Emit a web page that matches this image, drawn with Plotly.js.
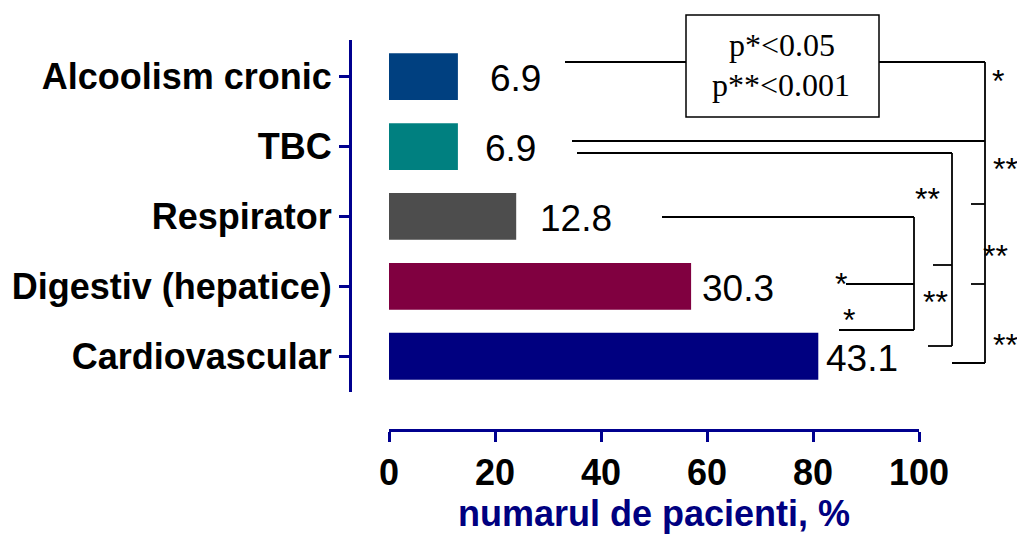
<!DOCTYPE html>
<html>
<head>
<meta charset="utf-8">
<script src="https://cdn.plot.ly/plotly-3.0.1.min.js"></script>
<style>
  html, body { margin: 0; padding: 0; background: #fff; }
  #chart { width: 1017px; height: 538px; }
</style>
</head>
<body>
<div id="chart"></div>
<script>
// Patient groups and number of patients in each group
const categories = ['Alcoolism cronic', 'TBC', 'Respirator', 'Digestiv (hepatice)', 'Cardiovascular'];
const patients = [13, 13, 24, 57, 81];
const barColors = ['#004080', '#008080', '#4d4d4d', '#800040', '#000080'];
const xTickVals = [0, 20, 40, 60, 80, 100];

// Share of all patients, shown next to each bar
const total = patients.reduce((a, b) => a + b, 0);
const shares = patients.map(n => (n / total * 100).toFixed(1));

// ---- page geometry ----
const PAGE_W = 1017, PAGE_H = 538;
const M = { l: 350, r: 17, t: 40, b: 108 };
const plotW = PAGE_W - M.l - M.r;
const plotH = PAGE_H - M.t - M.b;
const px = x => (x - M.l) / plotW;          // page pixel -> paper x
const py = y => 1 - (y - M.t) / plotH;      // page pixel -> paper y

const AXIS_BLUE = '#00008f';
const SANS = 'Liberation Sans, Arial, sans-serif';
const SERIF = 'Liberation Serif, Times New Roman, serif';

// Significance brackets (polylines, page pixels)
const bracketPaths = [
  [[565, 62], [985, 62], [985, 363], [952, 363]],
  [[572, 141], [985, 141]],
  [[971, 204], [985, 204]],
  [[971, 284], [985, 284]],
  [[577, 153], [952, 153], [952, 346], [928, 346]],
  [[933, 265], [952, 265]],
  [[662, 217], [914, 217], [914, 330], [839, 330]],
  [[846, 284], [914, 284]]
];
const starMarks = [
  [998, 74, '*'], [1005, 162, '**'], [995, 249, '**'], [1005, 338, '**'],
  [927, 192, '**'], [935, 295, '**'], [841, 277, '*'], [849, 313, '*']
];

const shapes = [];
bracketPaths.forEach(path => {
  for (let i = 0; i < path.length - 1; i++) {
    shapes.push({
      type: 'line', xref: 'paper', yref: 'paper', layer: 'above',
      x0: px(path[i][0]), y0: py(path[i][1]),
      x1: px(path[i + 1][0]), y1: py(path[i + 1][1]),
      line: { color: '#000', width: 1.8 }
    });
  }
});
// box with the p-value thresholds
shapes.push({
  type: 'rect', xref: 'paper', yref: 'paper', layer: 'above',
  x0: px(686), x1: px(879), y0: py(117), y1: py(15),
  fillcolor: '#fff', line: { color: '#000', width: 1.5 }
});

const annotations = [];
// value labels next to the bars
const labelGap = [30, 25, 22, 9, 6];
categories.forEach((c, i) => {
  annotations.push({
    x: patients[i], y: c, xref: 'x', yref: 'y',
    text: shares[i], showarrow: false,
    xanchor: 'left', yanchor: 'middle', xshift: labelGap[i], yshift: -2,
    font: { family: SANS, size: 37, color: '#000' }
  });
});
starMarks.forEach(s => {
  annotations.push({
    x: px(s[0]), y: py(s[1]), xref: 'paper', yref: 'paper',
    text: s[2], showarrow: false, xanchor: 'center', yanchor: 'middle',
    yshift: -7,
    font: { family: SANS, size: 32, color: '#000' }
  });
});
annotations.push({
  x: px(782), y: py(45), xref: 'paper', yref: 'paper', text: 'p*<0.05',
  showarrow: false, xanchor: 'center', yanchor: 'middle',
  font: { family: SERIF, size: 32, color: '#000' }
});
annotations.push({
  x: px(781), y: py(85), xref: 'paper', yref: 'paper', text: 'p**<0.001',
  showarrow: false, xanchor: 'center', yanchor: 'middle',
  font: { family: SERIF, size: 32, color: '#000' }
});

const trace = {
  type: 'bar', orientation: 'h',
  x: patients, y: categories,
  marker: { color: barColors, line: { width: 0 } },
  hoverinfo: 'none'
};

const layout = {
  width: PAGE_W, height: PAGE_H,
  margin: M,
  paper_bgcolor: '#fff', plot_bgcolor: '#fff',
  showlegend: false,
  bargap: 0.33,
  xaxis: {
    range: [0, 100], tickvals: xTickVals, ticktext: xTickVals.map(String),
    domain: [px(389), px(919)],
    anchor: 'free', position: 0,
    showline: true, linecolor: AXIS_BLUE, linewidth: 3,
    ticks: 'outside', ticklen: 10, tickwidth: 3, tickcolor: AXIS_BLUE,
    showgrid: false, zeroline: false,
    tickfont: { family: SANS, size: 36, color: '#000', weight: 'bold' },
    title: {
      text: 'numarul de pacienti, %', standoff: 6,
      font: { family: SANS, size: 36, color: '#000080', weight: 'bold' }
    }
  },
  yaxis: {
    type: 'category', categoryarray: categories, categoryorder: 'array',
    range: [4.512, -0.525],
    domain: [py(392), 1],
    anchor: 'free', position: 0,
    showline: true, linecolor: AXIS_BLUE, linewidth: 3,
    ticks: 'outside', ticklen: 10, tickwidth: 3, tickcolor: AXIS_BLUE,
    showgrid: false, zeroline: false,
    tickfont: { family: SANS, size: 36, color: '#000', weight: 'bold' }
  },
  shapes: shapes,
  annotations: annotations
};

Plotly.newPlot('chart', [trace], layout, { displayModeBar: false, staticPlot: true });
</script>
</body>
</html>
